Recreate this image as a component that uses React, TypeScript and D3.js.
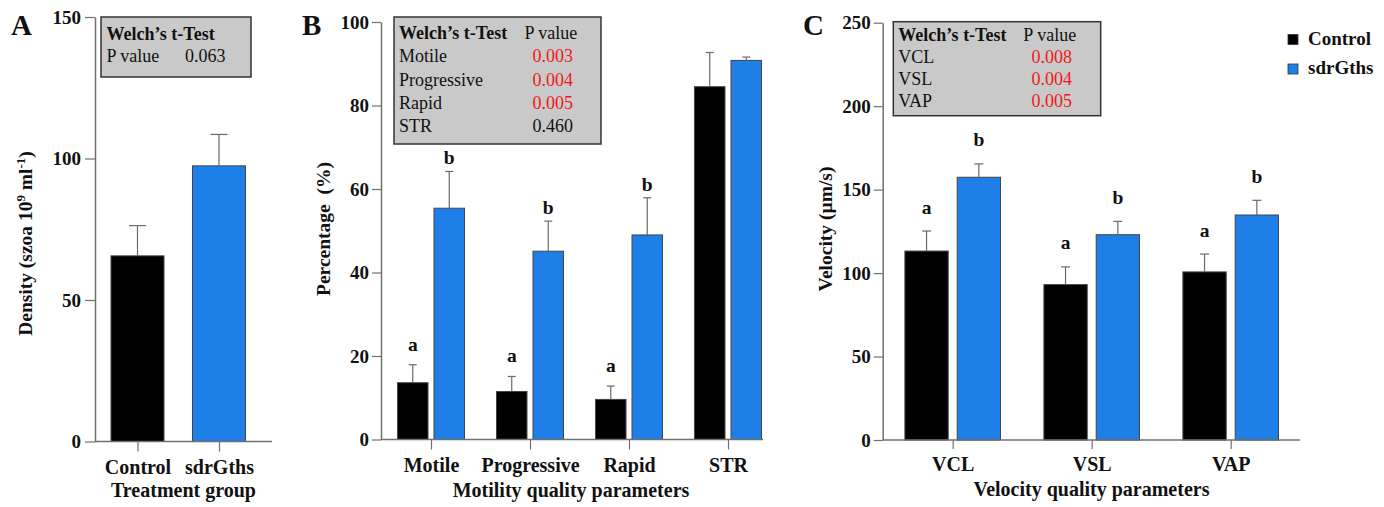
import React, { useEffect, useRef } from 'react';
import * as d3 from 'd3';

// Panel A - density
const densityGroups = ['Control', 'sdrGths'];
const densityMean = [65.6, 97.4];
const densityErr = [10.7, 11.1];
const densityTicks = [0, 50, 100, 150];

// Panel B - motility
const motilityCats = ['Motile', 'Progressive', 'Rapid', 'STR'];
const motilityControl = [13.6, 11.5, 9.6, 84.5];
const motilityControlErr = [4.3, 3.6, 3.2, 8.2];
const motilitySdr = [55.4, 45.1, 49.0, 90.8];
const motilitySdrErr = [8.8, 7.2, 8.9, 0.8];
const motilityLetters = [['a', 'b'], ['a', 'b'], ['a', 'b'], ['', '']];
const motilityTicks = [0, 20, 40, 60, 80, 100];

// Panel C - velocity
const velocityCats = ['VCL', 'VSL', 'VAP'];
const velocityControl = [113.2, 93.1, 100.7];
const velocityControlErr = [12.0, 10.6, 10.7];
const velocitySdr = [157.4, 123.0, 134.8];
const velocitySdrErr = [8.0, 8.0, 8.8];
const velocityLetters = [['a', 'b'], ['a', 'b'], ['a', 'b']];
const velocityTicks = [0, 50, 100, 150, 200, 250];

// Welch's t-test tables
const densityPRows = [['P value', '0.063']];
const motilityPRows = [['Motile', '0.003'], ['Progressive', '0.004'], ['Rapid', '0.005'], ['STR', '0.460']];
const motilityPSig = [true, true, true, false];
const velocityPRows = [['VCL', '0.008'], ['VSL', '0.004'], ['VAP', '0.005']];
const velocityPSig = [true, true, true];

const seriesNames = ['Control', 'sdrGths'];
const colors = ['#000000', '#1f7fe9'];

const FONT = '"Liberation Serif", "Times New Roman", Times, serif';
const AXIS = '#707070';
const RED = '#f01818';

export default function App() {
  const ref = useRef(null);

  useEffect(() => {
    const svg = d3.select(ref.current);
    svg.selectAll('*').remove();
    svg.attr('font-family', FONT);

    const yAxis = (y, x, ticks, size, pad) => {
      const g = svg.append('g').attr('transform', `translate(${x},0)`);
      g.call(d3.axisLeft(y).tickValues(ticks).tickSize(size).tickSizeOuter(0).tickPadding(pad));
      g.select('.domain').attr('stroke', AXIS).attr('stroke-width', 1.5);
      g.selectAll('.tick line').attr('stroke', AXIS).attr('stroke-width', 1.2);
      g.selectAll('.tick text').attr('font-family', FONT).attr('font-size', 19)
        .attr('font-weight', 'bold').attr('fill', '#111');
    };

    const xAxis = (x, y0, x0, x1, size) => {
      svg.append('line').attr('x1', x0).attr('x2', x1).attr('y1', y0).attr('y2', y0)
        .attr('stroke', AXIS).attr('stroke-width', 1.5);
      const g = svg.append('g').attr('transform', `translate(0,${y0})`);
      g.call(d3.axisBottom(x).tickSize(size).tickSizeOuter(0).tickPadding(8));
      g.select('.domain').remove();
      g.selectAll('.tick line').attr('stroke', AXIS).attr('stroke-width', 1.2);
      g.selectAll('.tick text').attr('font-family', FONT).attr('font-size', 20)
        .attr('font-weight', 'bold').attr('fill', '#111');
    };

    const errBar = (cx, yTop, yErr, cap) => {
      const g = svg.append('g').attr('stroke', '#6a6a6a').attr('stroke-width', 1.2);
      g.append('line').attr('x1', cx).attr('x2', cx).attr('y1', yTop).attr('y2', yErr);
      g.append('line').attr('x1', cx - cap / 2).attr('x2', cx + cap / 2).attr('y1', yErr).attr('y2', yErr);
    };

    const label = (text, x, y, size, weight, anchor = 'start', fill = '#111') =>
      svg.append('text').attr('x', x).attr('y', y).attr('font-size', size)
        .attr('font-weight', weight).attr('text-anchor', anchor).attr('fill', fill).text(text);

    const yTitle = (cx, cy) =>
      svg.append('text').attr('transform', `translate(${cx},${cy}) rotate(-90)`)
        .attr('text-anchor', 'middle').attr('font-size', 19.5).attr('font-weight', 'bold').attr('fill', '#111');

    const pBox = (x, y, w, h, rows, sig, hx, px, vx, y0, step) => {
      svg.append('rect').attr('x', x).attr('y', y).attr('width', w).attr('height', h)
        .attr('fill', '#c9c9c9').attr('stroke', '#333').attr('stroke-width', 1.5);
      label('Welch\u2019s t-Test', hx, y0, 18, 'bold');
      if (px != null) label('P value', px, y0, 18, 'normal');
      rows.forEach((r, i) => {
        label(r[0], hx, y0 + step * (i + 1), 18, 'normal');
        label(r[1], vx, y0 + step * (i + 1), 18, 'normal', 'end', sig && sig[i] ? RED : '#111');
      });
    };

    const groupedBars = (cats, ctrl, ctrlErr, sdr, sdrErr, letters, x, y, w, gap, cap, offs) => {
      const inner = d3.scaleBand().domain(seriesNames)
        .range([-(w + gap / 2), w + gap / 2]).paddingInner(gap / (w + gap));
      const series = [[ctrl, ctrlErr], [sdr, sdrErr]];
      cats.forEach((c, i) => {
        series.forEach(([vals, errs], s) => {
          const bx = x(c) + inner(seriesNames[s]);
          svg.append('rect').attr('x', bx).attr('y', y(vals[i])).attr('width', inner.bandwidth())
            .attr('height', y(0) - y(vals[i])).attr('fill', colors[s])
            .attr('stroke', '#444').attr('stroke-width', 1);
          const cx = bx + inner.bandwidth() / 2;
          errBar(cx, y(vals[i]), y(vals[i] + errs[i]), cap);
          const lt = letters[i][s];
          if (lt) label(lt, cx, y(vals[i] + errs[i]) - offs[s], 19.5, 'bold', 'middle');
        });
      });
    };

    // ---------- Panel A ----------
    const yA = d3.scaleLinear().domain([0, 150]).range([441.5, 17]);
    const xA = d3.scalePoint().domain(densityGroups).range([137.5, 219]);
    densityGroups.forEach((g, i) => {
      svg.append('rect').attr('x', xA(g) - 26.5).attr('y', yA(densityMean[i])).attr('width', 53)
        .attr('height', yA(0) - yA(densityMean[i])).attr('fill', colors[i])
        .attr('stroke', '#444').attr('stroke-width', 1);
      errBar(xA(g), yA(densityMean[i]), yA(densityMean[i] + densityErr[i]), 17);
    });
    yAxis(yA, 95, densityTicks, 10, 4);
    xAxis(xA, 441.5, 95, 272, 10);
    pBox(101, 17, 150, 60, densityPRows, null, 106.5, null, 225.5, 40, 22);
    label('Treatment group', 183.5, 497, 20, 'bold', 'middle');
    label('A', 11, 35, 29, 'bold');
    const tA = yTitle(32, 243.5);
    tA.append('tspan').text('Density (szoa 10');
    tA.append('tspan').attr('font-size', 13).attr('dy', -7).text('9');
    tA.append('tspan').attr('dy', 7).text(' ml');
    tA.append('tspan').attr('font-size', 13).attr('dy', -7).text('-1');
    tA.append('tspan').attr('dy', 7).text(')');

    // ---------- Panel B ----------
    const yB = d3.scaleLinear().domain([0, 100]).range([439.5, 22]);
    const xB = d3.scalePoint().domain(motilityCats).range([431, 728]);
    groupedBars(motilityCats, motilityControl, motilityControlErr, motilitySdr, motilitySdrErr,
      motilityLetters, xB, yB, 30.5, 6, 8, [14, 7]);
    yAxis(yB, 381, motilityTicks, 9, 3);
    xAxis(xB, 439.5, 381, 763, 10);
    pBox(394, 17, 207, 127, motilityPRows, motilityPSig, 399, 524.5, 573, 39, 23.3);
    label('Motility quality parameters', 571, 497, 20, 'bold', 'middle');
    label('B', 302, 35, 29, 'bold');
    yTitle(330, 229).text('Percentage  (%)').attr('xml:space', 'preserve');

    // ---------- Panel C ----------
    const yC = d3.scaleLinear().domain([0, 250]).range([440, 22.7]);
    const xC = d3.scalePoint().domain(velocityCats).range([952.7, 1230.7]);
    groupedBars(velocityCats, velocityControl, velocityControlErr, velocitySdr, velocitySdrErr,
      velocityLetters, xC, yC, 43.3, 9, 9, [17.5, 17.5]);
    yAxis(yC, 882.7, velocityTicks, 9, 3);
    xAxis(xC, 440, 882.7, 1300, 9);
    pBox(893.3, 21.7, 207.4, 94, velocityPRows, velocityPSig, 898.3, 1023.3, 1072, 40.5, 22.2);
    label('Velocity quality parameters', 1091.5, 496, 20, 'bold', 'middle');
    label('C', 803, 35, 29, 'bold');
    yTitle(832, 229).text('Velocity (\u00b5m/s)');

    // legend
    seriesNames.forEach((s, i) => {
      svg.append('rect').attr('x', 1288).attr('y', 34.5 + i * 29.5).attr('width', 10).attr('height', 10)
        .attr('fill', colors[i]).attr('stroke', '#333').attr('stroke-width', 0.8);
      label(s, 1308, 44.5 + i * 29.5, 19, 'bold');
    });
  }, []);

  return (
    <svg ref={ref} width={1384} height={507} style={{ position: 'absolute', left: 0, top: 0, background: '#fff' }} />
  );
}
